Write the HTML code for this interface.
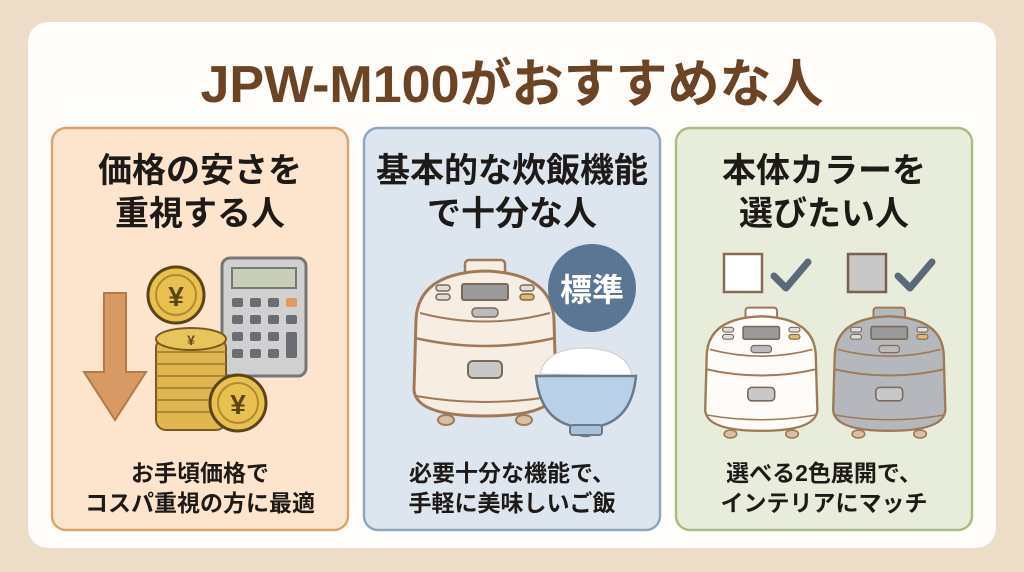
<!DOCTYPE html>
<html><head><meta charset="utf-8"><style>
html,body{margin:0;padding:0;background:#ecdcc8;}
svg{display:block}
text{font-family:"Liberation Sans","Noto Sans CJK JP",sans-serif;font-weight:bold;text-anchor:middle}
</style></head><body>
<svg width="1024" height="572" viewBox="0 0 1024 572" xmlns="http://www.w3.org/2000/svg">
<defs>
<g id="cook">
  <rect x="55" y="2" width="40" height="16" rx="4" fill="inherit" stroke="#a07a58" stroke-width="2.5"/>
  <path d="M6,62 Q8,15 75,13 Q142,15 144,62 L146,132 Q144,158 75,158 Q6,158 4,132 Z" stroke="#a07a58" stroke-width="3"/>
  <path d="M5,80 Q75,96 145,80" fill="none" stroke="#a07a58" stroke-width="2.5"/>
  <path d="M6,138 Q75,150 144,138" fill="none" stroke="#a07a58" stroke-width="2"/>
  <path d="M10,55 Q75,72 140,55" fill="none" stroke="#a07a58" stroke-width="2"/>
  <rect x="52" y="26" width="46" height="16" rx="2" fill="#9a9a9a" stroke="#7a6a5a" stroke-width="2"/>
  <rect x="26" y="27" width="14" height="6" rx="3" fill="#ddd" stroke="#7a6a5a" stroke-width="1.5"/>
  <rect x="26" y="36" width="14" height="6" rx="3" fill="#ddd" stroke="#7a6a5a" stroke-width="1.5"/>
  <rect x="110" y="27" width="14" height="6" rx="3" fill="#ddd" stroke="#7a6a5a" stroke-width="1.5"/>
  <rect x="110" y="36" width="14" height="6" rx="3" fill="#e8b860" stroke="#7a6a5a" stroke-width="1.5"/>
  <rect x="62" y="50" width="26" height="9" rx="4" fill="#bbb" stroke="#7a6a5a" stroke-width="1.5"/>
  <rect x="58" y="103" width="34" height="17" rx="5" fill="#c8c8c8" stroke="#7a6a5a" stroke-width="2"/>
  <ellipse cx="36" cy="162" rx="8" ry="5" fill="#d8c0a8" stroke="#a07a58" stroke-width="2"/>
  <ellipse cx="114" cy="162" rx="8" ry="5" fill="#d8c0a8" stroke="#a07a58" stroke-width="2"/>
</g>
</defs>
<rect x="0" y="0" width="1024" height="572" fill="#ecdcc8"/>
<rect x="28" y="22" width="968" height="526" rx="20" fill="#fffdfa"/>
<text x="512" y="102" font-size="52" fill="#6b4426">JPW-M100がおすすめな人</text>

<rect x="52" y="128" width="296" height="402" rx="14" fill="#fce4cd" stroke="#dca36d" stroke-width="2.5"/>
<rect x="364" y="128" width="296" height="402" rx="14" fill="#dde5ee" stroke="#8ea5c0" stroke-width="2.5"/>
<rect x="676" y="128" width="296" height="402" rx="14" fill="#e8ecda" stroke="#a9bd85" stroke-width="2.5"/>

<g font-size="34" fill="#1e1a18">
<text x="200" y="182">価格の安さを</text><text x="200" y="225">重視する人</text>
<text x="512" y="182">基本的な炊飯機能</text><text x="512" y="225">で十分な人</text>
<text x="824" y="182">本体カラーを</text><text x="824" y="225">選びたい人</text>
</g>
<g font-size="23" fill="#1e1a18">
<text x="200" y="481">お手頃価格で</text><text x="200" y="511">コスパ重視の方に最適</text>
<text x="512" y="481">必要十分な機能で、</text><text x="512" y="511">手軽に美味しいご飯</text>
<text x="824" y="481">選べる2色展開で、</text><text x="824" y="511">インテリアにマッチ</text>
</g>

<path d="M104,293 H126 V372 H146 L115,420 L84,372 H104 Z" fill="#d89a65" stroke="#b57a48" stroke-width="2"/>
<rect x="222" y="258" width="84" height="118" rx="8" fill="#d0d0d0" stroke="#777" stroke-width="3"/>
<rect x="232" y="268" width="64" height="20" fill="#c8cfb8" stroke="#777" stroke-width="2"/>
<g fill="#6a6e74">
<rect x="232" y="298" width="11" height="9" rx="2"/><rect x="250" y="298" width="11" height="9" rx="2"/><rect x="268" y="298" width="11" height="9" rx="2"/><rect x="286" y="298" width="11" height="9" rx="2" fill="#e09a60"/>
<rect x="232" y="315" width="11" height="9" rx="2"/><rect x="250" y="315" width="11" height="9" rx="2"/><rect x="268" y="315" width="11" height="9" rx="2"/><rect x="286" y="315" width="11" height="9" rx="2"/>
<rect x="232" y="332" width="11" height="9" rx="2"/><rect x="250" y="332" width="11" height="9" rx="2"/><rect x="268" y="332" width="11" height="9" rx="2"/><rect x="286" y="332" width="11" height="26" rx="2"/>
<rect x="232" y="349" width="11" height="9" rx="2"/><rect x="250" y="349" width="11" height="9" rx="2"/><rect x="268" y="349" width="11" height="9" rx="2"/>
</g>
<rect x="156" y="338" width="70" height="92" rx="10" stroke="#7a5a20" stroke-width="2" fill="#e2b64e"/>
<path d="M156,352 H226 M156,364 H226 M156,376 H226 M156,388 H226 M156,400 H226 M156,412 H226" stroke="#9a7a30" stroke-width="1.5" fill="none"/>
<ellipse cx="191" cy="339" rx="35" ry="11" fill="#e8c45c" stroke="#7a5a20" stroke-width="2"/>
<text x="191" y="345" font-size="14" fill="#6b4a20">¥</text>
<circle cx="176" cy="295" r="28" fill="#e8c050" stroke="#5a4418" stroke-width="3"/>
<circle cx="176" cy="295" r="20" fill="none" stroke="#b08a30" stroke-width="2"/>
<text x="176" y="306" font-size="28" fill="#5a4418">¥</text>
<circle cx="238" cy="403" r="28" fill="#e8c050" stroke="#5a4418" stroke-width="3"/>
<circle cx="238" cy="403" r="20" fill="none" stroke="#b08a30" stroke-width="2"/>
<text x="238" y="414" font-size="28" fill="#5a4418">¥</text>

<use href="#cook" transform="translate(410,258)" fill="#f6eee2"/>
<circle cx="592" cy="288" r="44" fill="#5b7595"/>
<text x="592" y="301" font-size="32" fill="#fff">標準</text>
<path d="M540,374 Q546,348 586,348 Q628,350 632,376 Z" fill="#fff" stroke="#ccc" stroke-width="1"/>
<path d="M536,376 H636 Q632,418 600,426 Q594,436 586,436 Q576,436 572,426 Q540,418 536,376 Z" fill="#b8d0e8" stroke="#6a7a88" stroke-width="2.5"/>
<rect x="570" y="425" width="32" height="10" rx="3" fill="#a8c2dc" stroke="#6a7a88" stroke-width="2"/>

<rect x="724" y="254" width="38" height="38" fill="#fff" stroke="#8a6a50" stroke-width="2.5"/>
<path d="M774,276 L786,288 L808,262" fill="none" stroke="#5a6a78" stroke-width="7" stroke-linecap="round" stroke-linejoin="round"/>
<rect x="848" y="254" width="38" height="38" fill="#c8c8c8" stroke="#7a6050" stroke-width="2.5"/>
<path d="M898,276 L910,288 L932,262" fill="none" stroke="#5a6a78" stroke-width="7" stroke-linecap="round" stroke-linejoin="round"/>
<use href="#cook" transform="translate(702,306) scale(0.79)" fill="#fdfcf8"/>
<use href="#cook" transform="translate(830,306) scale(0.79)" fill="#b4b8bc"/>
</svg>
</body></html>
